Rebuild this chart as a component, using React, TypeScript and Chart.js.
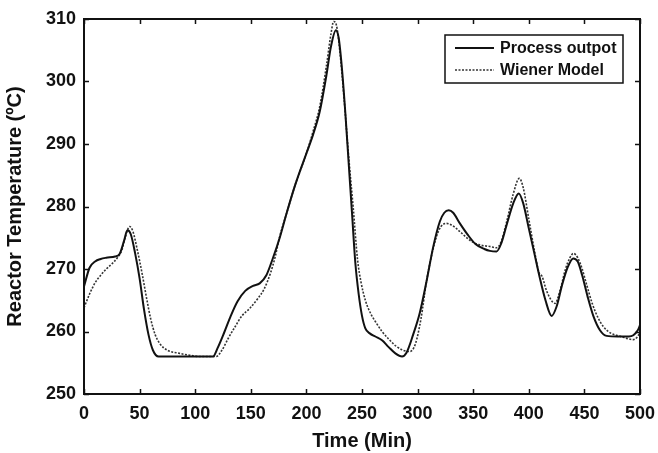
import React, { useEffect, useRef } from "react";
import { Chart, registerables } from "chart.js";

Chart.register(...registerables);

const processTime = [0, 5, 10, 15, 20, 28, 32, 36, 39, 42, 46, 50, 54, 58, 62, 67, 80, 100, 116, 120, 126, 132, 138, 145, 152, 158, 164, 170, 176, 182, 190, 200, 206, 212, 218, 222, 226.5, 229, 232, 235, 238, 241, 244, 247, 250, 253, 257, 262, 268, 274, 280, 286, 290, 296, 302, 308, 314, 320, 324, 328, 332, 338, 345, 352, 360, 365, 371, 375, 380, 386, 391, 395, 400, 405, 410, 415, 420.5, 425, 430, 435, 440, 444, 448, 453, 458, 464, 470, 480, 490, 494, 498, 500];
const processTemp = [267.2, 270.2, 271.2, 271.6, 271.8, 272.0, 272.4, 274.5, 276.2, 275.6, 272.5, 268.5, 263.5, 259.5, 257.0, 256.0, 256.0, 256.0, 256.0, 257.3, 259.8, 262.5, 264.8, 266.5, 267.3, 267.7, 269.0, 271.8, 275.0, 278.8, 283.5, 288.5, 291.5, 295.2, 301.0, 305.5, 308.2, 307.0, 302.0, 295.0, 287.0, 279.0, 271.0, 266.0, 262.5, 260.5, 259.7, 259.2, 258.6, 257.5, 256.5, 256.0, 256.6, 259.5, 263.0, 268.0, 273.5, 277.6, 279.0, 279.4, 279.0, 277.3, 275.5, 274.0, 273.2, 272.9, 272.8, 274.0, 277.0, 280.5, 282.1, 280.5, 276.5, 272.5, 268.5, 265.0, 262.5, 264.0, 267.5, 270.3, 271.7, 271.2, 269.0, 265.5, 262.5, 260.2, 259.3, 259.2, 259.2, 259.4, 260.2, 261.0];

const wienerTime = [0, 5, 10, 15, 20, 25, 30, 34, 37, 41, 44, 48, 52, 56, 60, 64, 68, 75, 86, 95, 104, 119, 124, 130, 136, 142, 149, 156, 162, 168, 172, 176, 182, 190, 200, 206, 212, 218, 222, 224.5, 227, 230, 234, 238, 242, 246, 249, 253, 258, 262, 268, 274, 281, 287, 293, 298, 303, 308, 313, 317, 321, 326, 331, 338, 347, 355, 365, 371, 375, 380, 386, 391.5, 395, 400, 405, 409, 412, 416, 423.6, 428, 433, 437, 440, 444, 448, 452, 457, 462, 467, 474, 481, 488, 494, 497, 500];
const wienerTemp = [263.8, 266.0, 267.8, 269.0, 270.0, 270.8, 271.8, 273.0, 275.0, 276.8, 276.0, 273.0, 269.5, 265.6, 262.0, 259.5, 258.1, 257.0, 256.5, 256.2, 256.0, 256.0, 257.0, 259.0, 260.8, 262.5, 263.7, 265.2, 266.8, 269.5, 272.0, 275.2, 278.8, 283.5, 288.5, 292.0, 296.0, 302.5, 307.5, 309.6, 309.0, 305.0, 297.0, 288.0, 280.0, 271.5, 268.0, 265.0, 262.8, 261.6, 260.0, 258.8, 257.6, 257.0, 256.8, 258.0, 262.0, 268.0, 272.5, 275.2, 276.8, 277.3, 277.0, 276.0, 274.6, 273.9, 273.6, 273.4, 274.3, 277.5, 282.0, 284.5, 283.0, 278.0, 273.0, 269.5, 268.8, 266.5, 264.5, 266.5, 270.0, 271.8, 272.5, 271.8, 270.0, 267.5, 264.5, 262.3, 260.8, 259.7, 259.3, 258.9, 258.7, 259.0, 259.8];

const xTicks = [0, 50, 100, 150, 200, 250, 300, 350, 400, 450, 500];
const yTicks = [250, 260, 270, 280, 290, 300, 310];
const seriesNames = ["Process outpot", "Wiener Model"];
const xTitle = "Time (Min)";
const yTitle = "Reactor Temperature (ºC)";

const FONT = "'Liberation Sans', Arial, sans-serif";

const framePlugin = {
  id: "frameAndLegend",
  afterDraw(chart: any) {
    const { ctx, chartArea, scales } = chart;
    const { left, right, top, bottom } = chartArea;
    const x = scales.x;
    const y = scales.y;
    ctx.save();
    ctx.strokeStyle = "#111";
    ctx.lineWidth = 2;
    ctx.setLineDash([]);
    ctx.strokeRect(left, top, right - left, bottom - top);
    const tl = 5;
    ctx.lineWidth = 1.5;
    ctx.beginPath();
    xTicks.forEach((v) => {
      const px = Math.round(x.getPixelForValue(v)) + 0.5;
      ctx.moveTo(px, bottom);
      ctx.lineTo(px, bottom - tl);
      ctx.moveTo(px, top);
      ctx.lineTo(px, top + tl);
    });
    yTicks.forEach((v) => {
      const py = Math.round(y.getPixelForValue(v)) + 0.5;
      ctx.moveTo(left, py);
      ctx.lineTo(left + tl, py);
      ctx.moveTo(right, py);
      ctx.lineTo(right - tl, py);
    });
    ctx.stroke();

    // legend
    const bx = right - 195;
    const by = top + 16;
    const bw = 178;
    const bh = 48;
    ctx.fillStyle = "#fff";
    ctx.fillRect(bx, by, bw, bh);
    ctx.lineWidth = 1.5;
    ctx.strokeStyle = "#111";
    ctx.strokeRect(bx, by, bw, bh);
    const rows = [by + 13, by + 35];
    const styles = [
      { dash: [] as number[], width: 2, color: "#111" },
      { dash: [2, 1.5], width: 1.6, color: "#333" },
    ];
    rows.forEach((ry, i) => {
      ctx.beginPath();
      ctx.setLineDash(styles[i].dash);
      ctx.lineWidth = styles[i].width;
      ctx.strokeStyle = styles[i].color;
      ctx.moveTo(bx + 10, ry);
      ctx.lineTo(bx + 49, ry);
      ctx.stroke();
      ctx.setLineDash([]);
      ctx.fillStyle = "#111";
      ctx.font = `bold 16px ${FONT}`;
      ctx.textBaseline = "middle";
      ctx.textAlign = "left";
      ctx.fillText(seriesNames[i], bx + 55, ry + 1);
    });
    ctx.restore();
  },
};

export default function App() {
  const ref = useRef<HTMLCanvasElement | null>(null);

  useEffect(() => {
    document.body.style.margin = "0";
    const canvas = ref.current;
    if (!canvas) return;
    const processData = processTime.map((t, i) => ({ x: t, y: processTemp[i] }));
    const wienerData = wienerTime.map((t, i) => ({ x: t, y: wienerTemp[i] }));
    const chart = new Chart(canvas, {
      type: "line",
      data: {
        datasets: [
          {
            label: seriesNames[0],
            data: processData,
            borderColor: "#111",
            borderWidth: 2,
            pointRadius: 0,
            fill: false,
            cubicInterpolationMode: "monotone",
          },
          {
            label: seriesNames[1],
            data: wienerData,
            borderColor: "#333",
            borderWidth: 1.6,
            borderDash: [2, 1.5],
            pointRadius: 0,
            fill: false,
            cubicInterpolationMode: "monotone",
          },
        ],
      },
      options: {
        responsive: false,
        animation: false,
        devicePixelRatio: 1,
        layout: { padding: { top: 19, right: 18, left: 0, bottom: 0 } },
        plugins: {
          legend: { display: false },
          tooltip: { enabled: false },
        },
        scales: {
          x: {
            type: "linear",
            min: 0,
            max: 500,
            grid: { display: false, drawTicks: false },
            border: { display: false },
            ticks: {
              stepSize: 50,
              autoSkip: false,
              maxRotation: 0,
              padding: 9,
              color: "#111",
              font: { family: FONT, size: 18, weight: "bold" },
            },
            title: {
              display: true,
              text: xTitle,
              color: "#111",
              font: { family: FONT, size: 20, weight: "bold" },
              padding: { top: 0, bottom: 0 },
            },
            afterFit(scale: any) {
              scale.height = 59;
              scale.paddingLeft = 0;
              scale.paddingRight = 0;
            },
          },
          y: {
            type: "linear",
            min: 250,
            max: 310,
            grid: { display: false, drawTicks: false },
            border: { display: false },
            ticks: {
              stepSize: 10,
              autoSkip: false,
              padding: 8,
              color: "#111",
              font: { family: FONT, size: 18, weight: "bold" },
            },
            title: {
              display: true,
              text: yTitle,
              color: "#111",
              font: { family: FONT, size: 20, weight: "bold" },
              padding: { top: 3, bottom: 0 },
            },
            afterFit(scale: any) {
              scale.width = 84;
              scale.paddingTop = 0;
              scale.paddingBottom = 0;
            },
          },
        },
      } as any,
      plugins: [framePlugin],
    });
    return () => chart.destroy();
  }, []);

  return (
    <div style={{ width: 658, height: 453, background: "#fff" }}>
      <canvas ref={ref} width={658} height={453} style={{ display: "block" }} />
    </div>
  );
}
